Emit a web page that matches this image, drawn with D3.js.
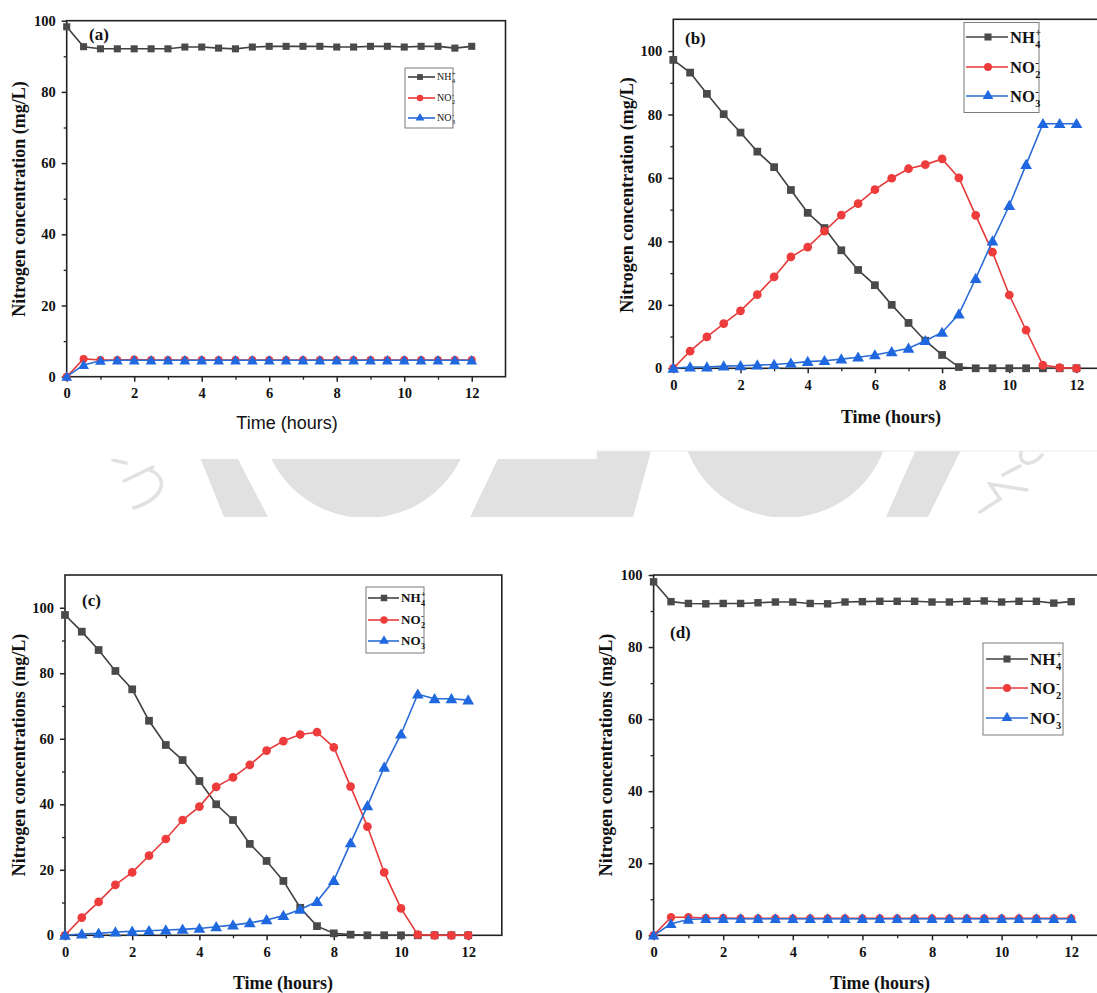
<!DOCTYPE html>
<html>
<head>
<meta charset="utf-8">
<script src="https://cdn.jsdelivr.net/npm/d3@7"></script>
<style>
  html, body { margin: 0; background: #fff; }
  svg { display: block; }
</style>
</head>
<body>
<svg id="fig" width="1097" height="993"></svg>
<script>
// Sampling times (h)
const hours = [0, 0.5, 1, 1.5, 2, 2.5, 3, 3.5, 4, 4.5, 5, 5.5, 6, 6.5, 7, 7.5, 8, 8.5, 9, 9.5, 10, 10.5, 11, 11.5, 12];

// (a)
const nh4A = [98.3, 92.7, 92.1, 92.1, 92.1, 92.1, 92.1, 92.6, 92.6, 92.3, 92.1, 92.6, 92.8, 92.8, 92.8, 92.8, 92.6, 92.6, 92.8, 92.8, 92.6, 92.8, 92.8, 92.3, 92.8];
const no2A = [0, 5.0, 4.7, 4.7, 4.8, 4.7, 4.7, 4.7, 4.7, 4.7, 4.7, 4.7, 4.7, 4.7, 4.7, 4.7, 4.7, 4.7, 4.7, 4.7, 4.7, 4.7, 4.7, 4.7, 4.7];
const no3A = [0, 3.3, 4.5, 4.6, 4.6, 4.6, 4.6, 4.6, 4.6, 4.6, 4.6, 4.6, 4.6, 4.6, 4.6, 4.6, 4.6, 4.6, 4.6, 4.6, 4.6, 4.6, 4.6, 4.6, 4.6];

// (b)
const nh4B = [97.2, 93.2, 86.5, 80.1, 74.3, 68.3, 63.4, 56.2, 49.0, 44.2, 37.2, 31.0, 26.2, 20.0, 14.3, 8.7, 4.2, 0.4, 0, 0, 0, 0, 0, 0, 0];
const no2B = [0, 5.4, 9.9, 14.1, 18.1, 23.2, 28.8, 35.1, 38.2, 43.2, 48.3, 51.9, 56.3, 59.9, 62.9, 64.2, 66.0, 60.0, 48.2, 36.6, 23.1, 12.0, 1.0, 0.2, 0];
const no3B = [0, 0.4, 0.4, 0.7, 0.8, 1.0, 1.2, 1.6, 2.1, 2.4, 2.9, 3.5, 4.2, 5.2, 6.3, 8.7, 11.3, 17.1, 28.3, 40.1, 51.3, 64.2, 77.1, 77.1, 77.1];

// (c)
const nh4C = [97.8, 92.7, 87.1, 80.7, 75.1, 65.5, 58.1, 53.5, 47.1, 40.0, 35.2, 27.9, 22.7, 16.6, 8.4, 2.8, 0.6, 0.2, 0, 0, 0, 0, 0, 0, 0];
const no2C = [0, 5.4, 10.2, 15.4, 19.2, 24.3, 29.4, 35.2, 39.3, 45.3, 48.2, 52.0, 56.4, 59.3, 61.3, 62.0, 57.4, 45.4, 33.2, 19.2, 8.2, 0.2, 0, 0, 0];
const no3C = [0, 0.4, 0.6, 1.0, 1.2, 1.4, 1.6, 1.8, 2.1, 2.6, 3.1, 3.8, 4.7, 6.0, 7.9, 10.3, 16.7, 28.2, 39.5, 51.3, 61.4, 73.6, 72.2, 72.2, 71.8];

// (d)
const nh4D = [98.1, 92.6, 92.1, 92.0, 92.1, 92.1, 92.3, 92.5, 92.5, 92.1, 92.0, 92.5, 92.6, 92.7, 92.7, 92.7, 92.5, 92.5, 92.7, 92.8, 92.5, 92.7, 92.7, 92.2, 92.6];
const no2D = [0, 5.0, 5.0, 4.8, 4.8, 4.7, 4.7, 4.7, 4.7, 4.7, 4.7, 4.7, 4.7, 4.7, 4.7, 4.7, 4.7, 4.7, 4.7, 4.7, 4.7, 4.7, 4.7, 4.7, 4.7];
const no3D = [0, 3.2, 4.4, 4.6, 4.6, 4.6, 4.6, 4.6, 4.6, 4.6, 4.6, 4.6, 4.6, 4.6, 4.6, 4.6, 4.6, 4.6, 4.6, 4.6, 4.6, 4.6, 4.6, 4.6, 4.6];

// Axis ticks
const xTicks = [0, 2, 4, 6, 8, 10, 12];
const xMinorTicks = [1, 3, 5, 7, 9, 11];
const yTicks = [0, 20, 40, 60, 80, 100];
const yMinorTicks = [10, 30, 50, 70, 90];

// Species legend text: base, subscript, superscript
const speciesBase = ["NH", "NO", "NO"];
const speciesSub = ["4", "2", "3"];
const speciesSup = ["+", "-", "-"];

const styles = [
  { line: "#404040", fill: "#4a4a4a", symbol: d3.symbolSquare },
  { line: "#e63a3a", fill: "#ee3c3c", symbol: d3.symbolCircle },
  { line: "#2a6cd6", fill: "#1f68e0", symbol: d3.symbolTriangle }
];

const SERIF = "'Liberation Serif', 'Times New Roman', serif";
const SANS = "'Liberation Sans', Arial, sans-serif";

const panels = [
  {
    tag: "(a)", series: [nh4A, no2A, no3A],
    left: 66.7, right: 505.5, top: 20.7, bottom: 376.7, xMax: 13, yMax: 100,
    tagPos: [89, 40], tagSize: 17,
    yTitle: "Nitrogen concentration (mg/L)", yTitlePos: [19, 199],
    xTitle: "Time (hours)", xTitlePos: [287, 429], xTitleFont: SANS, xTitleWeight: "normal",
    markerSize: 50,
    legend: { x0: 405, x1: 453, y0: 68, y1: 128, rows: [77, 98, 118], lineX: [408, 435], mark: 420, textX: 437, size: 10, weight: "normal", markerSize: 34 }
  },
  {
    tag: "(b)", series: [nh4B, no2B, no3B],
    left: 673.3, right: 673.3 + 13 * 33.6, top: 19.3, bottom: 368.3, xMax: 13, yMax: 110,
    tagPos: [685, 44], tagSize: 17,
    yTitle: "Nitrogen concentration (mg/L)", yTitlePos: [627, 195],
    xTitle: "Time (hours)", xTitlePos: [891, 423], xTitleFont: SERIF, xTitleWeight: "bold",
    markerSize: 60,
    legend: { x0: 964, x1: 1039, y0: 22.5, y1: 112.5, rows: [37, 67, 96], lineX: [966, 1008], mark: 988, textX: 1010, size: 16.5, weight: "bold", markerSize: 50 }
  },
  {
    tag: "(c)", series: [nh4C, no2C, no3C],
    left: 65, right: 65 + 13 * 33.6, top: 575, bottom: 935.3, xMax: 13, yMax: 110,
    tagPos: [82, 606], tagSize: 17,
    yTitle: "Nitrogen concentrations (mg/L)", yTitlePos: [19, 755],
    xTitle: "Time (hours)", xTitlePos: [283, 989], xTitleFont: SERIF, xTitleWeight: "bold",
    markerSize: 60,
    legend: { x0: 366, x1: 424, y0: 587, y1: 653, rows: [598, 620, 641], lineX: [368, 399], mark: 384, textX: 401, size: 13, weight: "bold", markerSize: 42 }
  },
  {
    tag: "(d)", series: [nh4D, no2D, no3D],
    left: 653.6, right: 653.6 + 13 * 34.8, top: 575, bottom: 935.3, xMax: 13, yMax: 100,
    tagPos: [670, 638], tagSize: 17,
    yTitle: "Nitrogen concentrations (mg/L)", yTitlePos: [606, 755],
    xTitle: "Time (hours)", xTitlePos: [880, 989], xTitleFont: SERIF, xTitleWeight: "bold",
    markerSize: 55,
    legend: { x0: 983, x1: 1063, y0: 643, y1: 735, rows: [659, 688, 718], lineX: [986, 1028], mark: 1007, textX: 1030, size: 17, weight: "bold", markerSize: 50 }
  }
];

const svg = d3.select("#fig");
svg.append("rect").attr("width", 1097).attr("height", 993).attr("fill", "#fff");

// ---- faint background emblem between the two rows ----
const wm = svg.append("g");
const band = wm.append("clipPath").attr("id", "band");
band.append("path").attr("d", "M0,459 L597,459 L597,451 L1097,451 L1097,517 L0,517 Z");
const wmG = wm.append("g").attr("clip-path", "url(#band)").attr("fill", "#e1e1e1");
wmG.append("path").attr("d", "M193,440 L228,440 L268,517 L224,517 Z");
wmG.append("ellipse").attr("cx", 366).attr("cy", 414).attr("rx", 105).attr("ry", 104);
wmG.append("path").attr("d", "M507,440 L654,440 L633,517 L470,517 Z");
wmG.append("ellipse").attr("cx", 785.5).attr("cy", 416.7).attr("rx", 104).attr("ry", 101);
wmG.append("path").attr("d", "M920,440 L966,440 L928,517 L886,517 Z");
const wmS = wm.append("g").attr("clip-path", "url(#band)").attr("fill", "none")
  .attr("stroke", "#e1e1e1").attr("stroke-width", 3.5).attr("stroke-linecap", "round");
wmS.append("path").attr("d", "M113,460 L126,463");
wmS.append("path").attr("d", "M124,481 L153,467");
wmS.append("path").attr("d", "M150,470 C168,478 166,497 134,508");
wmS.append("path").attr("d", "M980,512 L1000,499 L990,484 L1027,490");
wmS.append("path").attr("d", "M1003,475 L1020,466");
wmS.append("path").attr("d", "M1042,455 C1030,470 1016,462 1022,450");
wm.append("path").attr("d", "M597,459 L597,451 L1097,451").attr("fill", "none")
  .attr("stroke", "#ececec").attr("stroke-width", 1);

// ---- panels ----
panels.forEach(p => {
  const g = svg.append("g");
  const x = d3.scaleLinear().domain([0, p.xMax]).range([p.left, p.right]);
  const y = d3.scaleLinear().domain([0, p.yMax]).range([p.bottom, p.top]);

  // bottom axis
  const xAxis = d3.axisBottom(x).tickValues(xTicks).tickSize(5).tickPadding(6).tickFormat(d3.format("d"));
  const gx = g.append("g").attr("transform", `translate(0,${p.bottom})`).call(xAxis);
  gx.select(".domain").remove();
  gx.selectAll(".tick line").attr("stroke", "#222").attr("stroke-width", 1.5);
  gx.selectAll(".tick text").attr("font-family", SERIF).attr("font-weight", "bold")
    .attr("font-size", 14.5).attr("fill", "#111");
  const gxm = g.append("g").attr("transform", `translate(0,${p.bottom})`)
    .call(d3.axisBottom(x).tickValues(xMinorTicks).tickSize(3).tickFormat(""));
  gxm.select(".domain").remove();
  gxm.selectAll(".tick line").attr("stroke", "#222").attr("stroke-width", 1.3);

  // left axis
  const yAxis = d3.axisLeft(y).tickValues(yTicks).tickSize(5).tickPadding(6).tickFormat(d3.format("d"));
  const gy = g.append("g").attr("transform", `translate(${p.left},0)`).call(yAxis);
  gy.select(".domain").remove();
  gy.selectAll(".tick line").attr("stroke", "#222").attr("stroke-width", 1.5);
  gy.selectAll(".tick text").attr("font-family", SERIF).attr("font-weight", "bold")
    .attr("font-size", 14.5).attr("fill", "#111");
  const gym = g.append("g").attr("transform", `translate(${p.left},0)`)
    .call(d3.axisLeft(y).tickValues(yMinorTicks).tickSize(3).tickFormat(""));
  gym.select(".domain").remove();
  gym.selectAll(".tick line").attr("stroke", "#222").attr("stroke-width", 1.3);

  // frame
  g.append("rect").attr("x", p.left).attr("y", p.top)
    .attr("width", p.right - p.left).attr("height", p.bottom - p.top)
    .attr("fill", "none").attr("stroke", "#222").attr("stroke-width", 1.6);

  // series
  const line = d3.line().x((d, i) => x(hours[i])).y(d => y(d));
  p.series.forEach((vals, k) => {
    const st = styles[k];
    g.append("path").datum(vals).attr("d", line).attr("fill", "none")
      .attr("stroke", st.line).attr("stroke-width", 1.6);
    const sym = d3.symbol().type(st.symbol).size(p.markerSize);
    g.append("g").selectAll("path").data(vals).join("path")
      .attr("transform", (d, i) => `translate(${x(hours[i])},${y(d) + (k === 2 ? 1 : 0)})`)
      .attr("d", sym).attr("fill", st.fill);
  });

  // panel tag
  g.append("text").attr("x", p.tagPos[0]).attr("y", p.tagPos[1]).text(p.tag)
    .attr("font-family", SERIF).attr("font-weight", "bold").attr("font-size", p.tagSize).attr("fill", "#111");

  // axis titles
  g.append("text").attr("transform", `translate(${p.yTitlePos[0]},${p.yTitlePos[1]}) rotate(-90)`)
    .attr("text-anchor", "middle").attr("dominant-baseline", "central")
    .attr("font-family", SERIF).attr("font-weight", "bold").attr("font-size", 18).attr("fill", "#111")
    .text(p.yTitle);
  g.append("text").attr("x", p.xTitlePos[0]).attr("y", p.xTitlePos[1]).attr("text-anchor", "middle")
    .attr("font-family", p.xTitleFont).attr("font-weight", p.xTitleWeight).attr("font-size", 18)
    .attr("fill", "#111").text(p.xTitle);

  // legend
  const L = p.legend;
  g.append("rect").attr("x", L.x0).attr("y", L.y0).attr("width", L.x1 - L.x0).attr("height", L.y1 - L.y0)
    .attr("fill", "#fff").attr("stroke", "#7a7a7a").attr("stroke-width", 1);
  L.rows.forEach((ry, k) => {
    const st = styles[k];
    g.append("line").attr("x1", L.lineX[0]).attr("x2", L.lineX[1]).attr("y1", ry).attr("y2", ry)
      .attr("stroke", st.line).attr("stroke-width", 1.6);
    g.append("path").attr("transform", `translate(${L.mark},${ry})`)
      .attr("d", d3.symbol().type(st.symbol).size(L.markerSize)).attr("fill", st.fill);
    const base = g.append("text").attr("x", L.textX).attr("y", ry + L.size * 0.34)
      .attr("font-family", SERIF).attr("font-weight", L.weight).attr("font-size", L.size)
      .attr("fill", "#111").text(speciesBase[k]);
    const w = base.node().getComputedTextLength();
    const small = L.size * 0.62;
    g.append("text").attr("x", L.textX + w + 0.5).attr("y", ry + L.size * 0.34 + L.size * 0.3)
      .attr("font-family", SERIF).attr("font-weight", L.weight).attr("font-size", small)
      .attr("fill", "#111").text(speciesSub[k]);
    g.append("text").attr("x", L.textX + w + 0.5).attr("y", ry + L.size * 0.34 - L.size * 0.42)
      .attr("font-family", SERIF).attr("font-weight", L.weight).attr("font-size", small)
      .attr("fill", "#111").text(speciesSup[k]);
  });
});
</script>
</body>
</html>
